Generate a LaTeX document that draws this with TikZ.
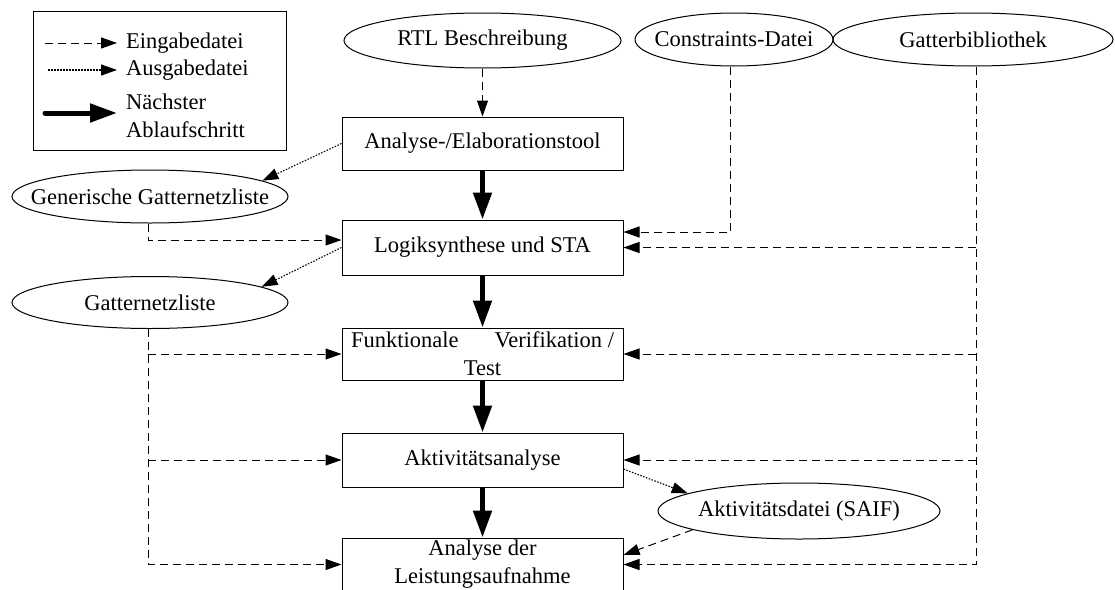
\documentclass[tikz,border=0pt]{standalone}
\usepackage{fontspec}
\setmainfont{Liberation Serif}
\usetikzlibrary{arrows.meta,shapes.geometric}

\begin{document}
\begin{tikzpicture}[x=1pt,y=-1pt,
  every node/.style={font=\fontsize{22.5}{28}\selectfont, inner sep=0pt},
  stepbox/.style={draw, line width=1pt, minimum width=281pt, minimum height=53pt, align=center},
  datafile/.style={draw, ellipse, line width=1pt, inner sep=0pt},
  legendbox/.style={draw, line width=1pt},
  infile/.style={line width=1pt, dash pattern=on 8pt off 5pt, -{Triangle[length=16pt,width=11pt]}},
  outfile/.style={line width=1.1pt, dash pattern=on 1.5pt off 1.5pt, -{Triangle[length=16pt,width=11pt]}},
  nextstep/.style={line width=5pt, -{Triangle[length=27pt,width=18pt]}}
]
\useasboundingbox (0,0) rectangle (1115,589);

% legend
\node[legendbox, minimum width=253pt, minimum height=139pt] (legend) at (159.5,80.5) {};
\coordinate (din0) at (45,43);  \coordinate (din1) at (117,43);
\coordinate (dout0) at (48,70); \coordinate (dout1) at (117,70);
\coordinate (dnx0) at (45,113); \coordinate (dnx1) at (117,113);
\draw[infile] (din0) -- (din1);
\draw[outfile] (dout0) -- (dout1);
\draw[nextstep, line cap=round] (dnx0) -- (dnx1);
\node[anchor=west] (lin) at (126,43) {Eingabedatei};
\node[anchor=west] (lout) at (126,70) {Ausgabedatei};
\node[anchor=west, align=left] (lnext) at (126,115.5) {Nächster\\Ablaufschritt};

% data files
\node[datafile, minimum width=277pt, minimum height=55pt] (rtl) at (482.5,40.5) {\makebox[0pt]{RTL Beschreibung}};
\node[datafile, minimum width=198pt, minimum height=53pt] (con) at (734,39.5) {\makebox[0pt]{Constraints-Datei}};
\node[datafile, minimum width=280pt, minimum height=53pt] (lib) at (973,39.5) {\makebox[0pt]{Gatterbibliothek}};
\node[datafile, minimum width=276pt, minimum height=53pt] (gen) at (150,196.5) {\makebox[0pt]{Generische Gatternetzliste}};
\node[datafile, minimum width=276pt, minimum height=52pt] (gnl) at (150,302.5) {\makebox[0pt]{Gatternetzliste}};
\node[datafile, minimum width=282pt, minimum height=56pt] (saif) at (799,511) {\makebox[0pt]{Aktivitätsdatei (SAIF)}};

% flow steps
\node[stepbox] (b1) at (482.5,143.5) {Analyse-/Elaborationstool};
\node[stepbox, minimum height=55pt] (b2) at (482.5,247.5) {Logiksynthese und STA};
\node[stepbox, minimum height=52pt] (b3) at (482.5,354) {\makebox[263pt]{Funktionale\hfill Verifikation /}\\Test};
\node[stepbox, minimum height=54pt] (b4) at (482.5,460) {Aktivitätsanalyse};
\node[stepbox] (b5) at (482.5,564.5) {Analyse der\\Leistungsaufnahme};

% next step
\draw[nextstep] (b1.south) -- (b2.north);
\draw[nextstep] (b2.south) -- (b3.north);
\draw[nextstep] (b3.south) -- (b4.north);
\draw[nextstep] (b4.south) -- (b5.north);

% input files
\draw[infile] (rtl.south) -- (b1.north);
\draw[infile] ([xshift=-4pt]con.south) |- ([yshift=15.5pt]b2.east);
\draw[infile] ([xshift=3pt]lib.south) |- (b5.east);
\draw[infile] ([xshift=3pt]lib.south |- b2.east) -- (b2.east);
\draw[infile] ([xshift=3pt]lib.south |- b3.east) -- (b3.east);
\draw[infile] ([xshift=3pt]lib.south |- b4.east) -- (b4.east);
\draw[infile] ([xshift=-2pt]gen.south) |- ([yshift=7.5pt]b2.west);
\draw[infile] ([xshift=-2pt]gnl.south) |- (b5.west);
\draw[infile] ([xshift=-2pt]gnl.south |- b3.west) -- (b3.west);
\draw[infile] ([xshift=-2pt]gnl.south |- b4.west) -- (b4.west);
\draw[infile] (saif.190) -- ([yshift=9.5pt]b5.east);

% output files
\draw[outfile] (b1.west) -- (gen.8);
\draw[outfile] (b2.west) -- (gnl.8);
\draw[outfile] ([yshift=-9pt]b4.east) -- (saif.171);
\end{tikzpicture}
\end{document}
